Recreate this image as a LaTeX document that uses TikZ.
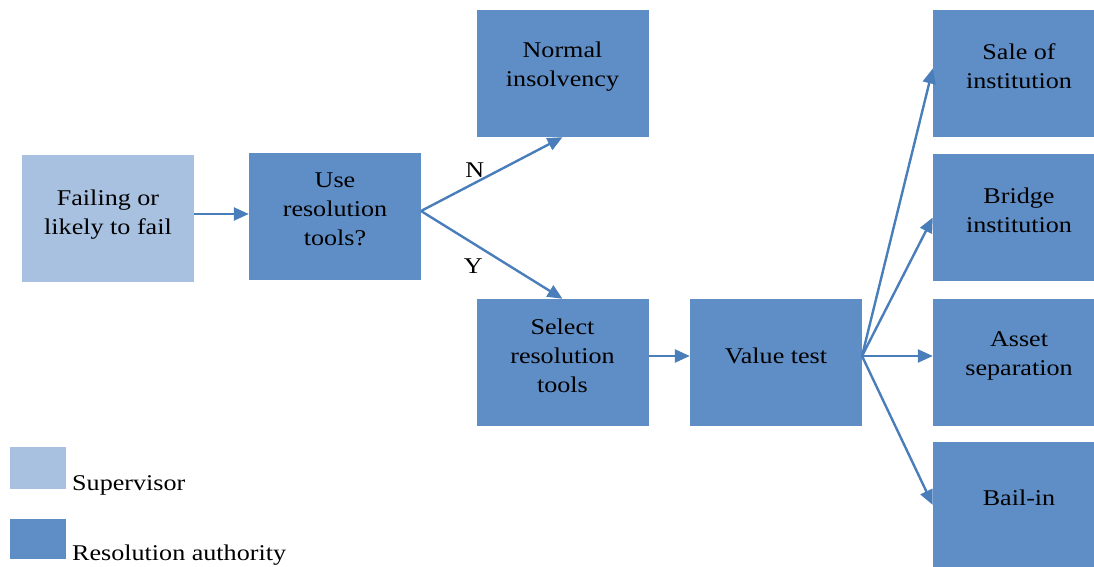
\documentclass[tikz,border=0pt]{standalone}
\usepackage{fontspec}
\setmainfont{Liberation Serif}[FakeStretch=1.16]
\usetikzlibrary{arrows.meta}
\definecolor{light}{HTML}{A9C1E0}
\definecolor{dark}{HTML}{5F8DC6}
\definecolor{arr}{HTML}{4A7EBB}
\tikzset{
  box/.style={fill=dark, draw=none, minimum width=172pt, minimum height=127pt, inner sep=0pt},
  lbox/.style={box, fill=light},
  txt/.style={align=center, inner sep=0pt, font=\fontsize{22.5}{29}\selectfont},
  conn/.style={draw=arr, line width=2.4pt, -{Triangle[length=15pt,width=13pt]}},
  lab/.style={font=\fontsize{22.5}{29}\selectfont, inner sep=0pt},
}
\newcommand{\bx}[5][7pt]{%
  \node[#2] (#3) at (#4) {};
  \node[txt] (#3-t) at ([yshift=#1]#3.center) {#5};
}
\begin{document}
\begin{tikzpicture}[x=1pt,y=-1pt]
\useasboundingbox (0,0) rectangle (1094,567);
\clip (0,0) rectangle (1094,567);
\bx[3pt]{lbox}{fail}{108,218}{Failing or\\likely to fail}
\bx{box}{use}{335,216.5}{Use\\resolution\\tools?}
\bx{box}{normal}{562.5,73.5}{Normal\\insolvency}
\bx{box}{select}{562.5,362.5}{Select\\resolution\\tools}
\bx{box}{value}{776,362.5}{Value test}
\bx{box}{sale}{1019,73.5}{Sale of\\institution}
\bx{box}{bridge}{1019,217.5}{Bridge\\institution}
\bx{box}{asset}{1019,362.5}{Asset\\separation}
\bx{box}{bail}{1019,505}{Bail-in}
\node[lbox, minimum width=56pt, minimum height=42pt] (lsup) at (38,468) {};
\node[box, minimum width=56pt, minimum height=40pt] (lres) at (38,539) {};
\node[lab, anchor=base west] (tsup) at (72,490) {Supervisor};
\node[lab, anchor=base west] (tres) at (72,560) {Resolution authority};
\coordinate (usep) at (421,211);
\coordinate (failp) at (194,214);
\coordinate (valp) at (862,356);
\draw[conn] (failp) -- (use.west |- failp);
\draw[conn] (usep) -- (normal.south) node[lab, pos=0.38, above=4pt] (n) {N};
\draw[conn] (usep) -- (select.north) node[lab, pos=0.37, below=14pt] (y) {Y};
\draw[conn] (select.east |- valp) -- (value.west |- valp);
\draw[conn] (valp) -- ([yshift=5pt]sale.west);
\draw[conn] (valp) -- (bridge.west);
\draw[conn] (valp) -- (asset.west |- valp);
\draw[conn] (valp) -- (bail.west);
\end{tikzpicture}
\end{document}
